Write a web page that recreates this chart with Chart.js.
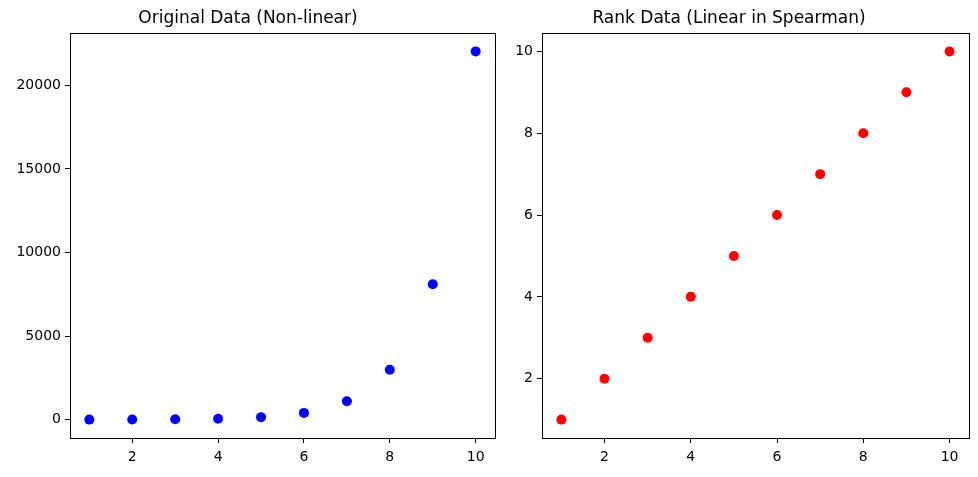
<!DOCTYPE html>
<html>
<head>
<meta charset="utf-8">
<script src="https://cdn.jsdelivr.net/npm/chart.js@4/dist/chart.umd.min.js"></script>
<style>
  html, body { margin: 0; padding: 0; background: #fff; }
  #wrap { position: relative; width: 978px; height: 477px; overflow: hidden; }
  canvas { position: absolute; top: 0; }
</style>
</head>
<body>
<div id="wrap">
  <canvas id="left" width="500" height="477" style="left:0px"></canvas>
  <canvas id="right" width="489" height="477" style="left:489px"></canvas>
</div>
<script>
// ---- data ----
const xValues = [1, 2, 3, 4, 5, 6, 7, 8, 9, 10];
const originalValues = [2.718, 7.389, 20.09, 54.6, 148.4, 403.4, 1096.6, 2981.0, 8103.1, 22026.5];
const rankValues = [1, 2, 3, 4, 5, 6, 7, 8, 9, 10];
const xTicks = [2, 4, 6, 8, 10];
const leftYTicks = [0, 5000, 10000, 15000, 20000];
const rightYTicks = [2, 4, 6, 8, 10];
const leftTitle = 'Original Data (Non-linear)';
const rightTitle = 'Rank Data (Linear in Spearman)';

const FONT = '"DejaVu Sans", sans-serif';

const boxPlugin = {
  id: 'box',
  afterDraw(chart) {
    const a = chart.chartArea, c = chart.ctx;
    c.save();
    c.strokeStyle = '#000';
    c.lineWidth = 1;
    c.strokeRect(Math.round(a.left) + 0.5, Math.round(a.top) + 0.5,
                 Math.round(a.right - a.left), Math.round(a.bottom - a.top));
    c.restore();
  }
};

function pad(vals) {
  const lo = Math.min(...vals), hi = Math.max(...vals);
  const m = (hi - lo) * 0.05;
  return [lo - m, hi + m];
}

function makeChart(id, ys, color, title, yTicks, yAxisWidth, padRight) {
  const [xmin, xmax] = pad(xValues);
  const [ymin, ymax] = pad(ys);
  return new Chart(document.getElementById(id), {
    type: 'scatter',
    data: {
      datasets: [{
        data: xValues.map((x, i) => ({ x: x, y: ys[i] })),
        backgroundColor: color,
        borderWidth: 0,
        pointRadius: 5,
        pointHoverRadius: 5
      }]
    },
    options: {
      responsive: false,
      animation: false,
      devicePixelRatio: 1,
      layout: { padding: { top: 0, right: padRight, bottom: 0, left: 0 } },
      plugins: {
        legend: { display: false },
        tooltip: { enabled: false },
        title: {
          display: true,
          text: title,
          color: '#000',
          font: { family: FONT, size: 17, weight: 'normal', lineHeight: 1.2 },
          padding: { top: 8, bottom: 4.6 }
        }
      },
      scales: {
        x: {
          type: 'linear',
          min: xmin, max: xmax,
          afterBuildTicks: s => { s.ticks = xTicks.map(v => ({ value: v })); },
          afterFit: s => { s.height = 39; },
          grid: { display: true, drawOnChartArea: false, drawTicks: true, tickLength: 5, color: '#000' },
          border: { display: true, color: '#000', width: 1 },
          ticks: { color: '#000', font: { family: FONT, size: 14 }, padding: 6, maxRotation: 0,
                   callback: v => String(v) }
        },
        y: {
          type: 'linear',
          min: ymin, max: ymax,
          afterBuildTicks: s => { s.ticks = yTicks.map(v => ({ value: v })); },
          afterFit: s => { s.width = yAxisWidth; },
          grid: { display: true, drawOnChartArea: false, drawTicks: true, tickLength: 5, color: '#000' },
          border: { display: true, color: '#000', width: 1 },
          ticks: { color: '#000', font: { family: FONT, size: 14 }, padding: 4,
                   callback: v => String(v) }
        }
      }
    },
    plugins: [boxPlugin]
  });
}

makeChart('left', originalValues, '#0000ff', leftTitle, leftYTicks, 70, 4);
makeChart('right', rankValues, '#ff0000', rightTitle, rightYTicks, 53, 9);
</script>
</body>
</html>
